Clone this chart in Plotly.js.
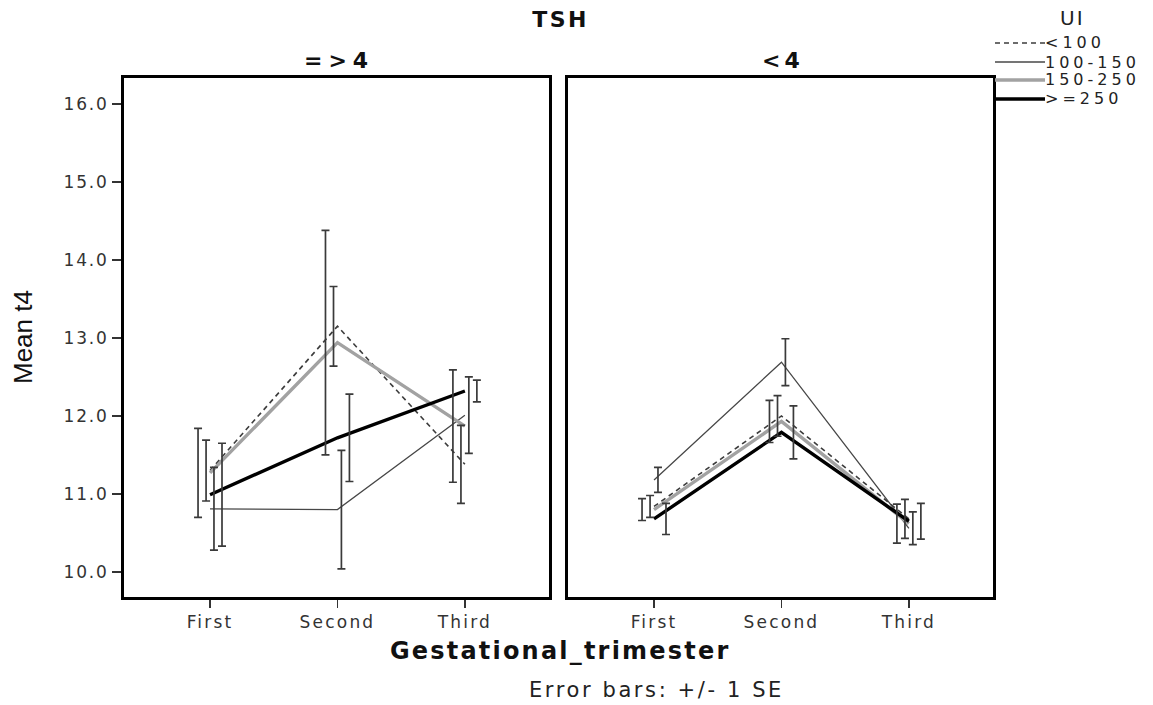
<!DOCTYPE html>
<html>
<head>
<meta charset="utf-8">
<script src="https://cdn.plot.ly/plotly-3.0.1.min.js"></script>
<style>
  html, body { margin: 0; padding: 0; background: #fff; }
  #chart { width: 1153px; height: 705px; }
  #chart .xtick text, #chart .x2tick text { letter-spacing: 2.2px; }
  #chart .ytick text { letter-spacing: 1.8px; }
</style>
</head>
<body>
<div id="chart"></div>
<script>
// ---------- data ----------
const categories = ['First', 'Second', 'Third'];
const groups = ['<100', '100-150', '150-250', '>=250'];
const panelTitles = ['=>4', '<4'];
const yTickValues = [10, 11, 12, 13, 14, 15, 16];

// TSH =>4 panel : mean t4 per trimester
const hiMean_lt100   = [11.30, 13.15, 11.38];
const hiMean_100_150 = [10.81, 10.80, 12.01];
const hiMean_150_250 = [11.27, 12.94, 11.87];
const hiMean_ge250   = [10.99, 11.72, 12.32];
// TSH =>4 panel : standard error
const hiSE_lt100     = [0.39, 0.51, 0.50];
const hiSE_100_150   = [0.53, 0.76, 0.49];
const hiSE_150_250   = [0.57, 1.44, 0.72];
const hiSE_ge250     = [0.66, 0.56, 0.14];

// TSH <4 panel : mean t4 per trimester
const loMean_lt100   = [10.84, 12.00, 10.68];
const loMean_100_150 = [11.18, 12.69, 10.56];
const loMean_150_250 = [10.80, 11.93, 10.62];
const loMean_ge250   = [10.68, 11.79, 10.65];
// TSH <4 panel : standard error
const loSE_lt100     = [0.14, 0.26, 0.25];
const loSE_100_150   = [0.16, 0.30, 0.21];
const loSE_150_250   = [0.14, 0.27, 0.25];
const loSE_ge250     = [0.20, 0.34, 0.23];

// ---------- styles ----------
const W = 1153, H = 705;
const styles = {
  '<100':    { color: '#3c3c3c', width: 1.6, dash: '5px,4px' },
  '100-150': { color: '#474747', width: 1.3, dash: 'solid' },
  '150-250': { color: '#a2a2a2', width: 3.4, dash: 'solid' },
  '>=250':   { color: '#000000', width: 3.4, dash: 'solid' }
};
const dodge = { '150-250': -0.094, '<100': -0.031, '100-150': 0.031, '>=250': 0.094 };
const errColor = '#3a3a3a';
const FONT = 'DejaVu Sans, Verdana, sans-serif';

const panelData = [
  { means: [hiMean_lt100, hiMean_100_150, hiMean_150_250, hiMean_ge250],
    ses:   [hiSE_lt100, hiSE_100_150, hiSE_150_250, hiSE_ge250], xa: 'x', ya: 'y' },
  { means: [loMean_lt100, loMean_100_150, loMean_150_250, loMean_ge250],
    ses:   [loSE_lt100, loSE_100_150, loSE_150_250, loSE_ge250], xa: 'x2', ya: 'y2' }
];

const xIdx = categories.map((c, i) => i);
const traces = [];
panelData.forEach(p => {
  groups.forEach((g, gi) => {
    traces.push({
      type: 'scatter', mode: 'lines', x: xIdx, y: p.means[gi],
      xaxis: p.xa, yaxis: p.ya, showlegend: false, hoverinfo: 'skip',
      line: { color: styles[g].color, width: styles[g].width, dash: styles[g].dash }
    });
  });
  groups.forEach((g, gi) => {
    traces.push({
      type: 'scatter', mode: 'markers', x: xIdx.map(i => i + dodge[g]), y: p.means[gi],
      xaxis: p.xa, yaxis: p.ya, showlegend: false, hoverinfo: 'skip',
      marker: { size: 1, color: 'rgba(0,0,0,0)' },
      error_y: { type: 'data', array: p.ses[gi], visible: true, color: errColor, thickness: 1.7, width: 4 }
    });
  });
});

const px = v => v / W;
const py = v => 1 - v / H;

const yDomain = [py(597), py(78)];
const xRange = [-0.675, 2.66];
const yRange = [9.679, 16.333];

const commonX = {
  range: xRange, tickvals: xIdx, ticktext: categories,
  ticks: 'outside', ticklen: 8, tickwidth: 1.5, tickcolor: '#333',
  showline: true, mirror: true, linewidth: 3, linecolor: '#000',
  showgrid: false, zeroline: false, fixedrange: true,
  tickfont: { family: FONT, size: 17, color: '#333' }
};
const commonY = {
  range: yRange, tickvals: yTickValues, ticktext: yTickValues.map(v => v.toFixed(1)),
  showline: true, mirror: true, linewidth: 3, linecolor: '#000',
  showgrid: false, zeroline: false, fixedrange: true,
  tickfont: { family: FONT, size: 17, color: '#333' }
};

const layout = {
  width: W, height: H,
  margin: { l: 0, r: 0, t: 0, b: 0 },
  paper_bgcolor: '#fff', plot_bgcolor: '#fff',
  showlegend: false,
  xaxis:  Object.assign({}, commonX, { domain: [px(124), px(549)], anchor: 'y' }),
  xaxis2: Object.assign({}, commonX, { domain: [px(568), px(993)], anchor: 'y2' }),
  yaxis:  Object.assign({}, commonY, { domain: yDomain, anchor: 'x', ticks: 'outside', ticklen: 9, tickwidth: 1.5, tickcolor: '#333' }),
  yaxis2: Object.assign({}, commonY, { domain: yDomain, anchor: 'x2', showticklabels: false, ticks: '' }),
  shapes: [],
  annotations: []
};

// titles (letter spacing applied after drawing)
const spacing = [];
const ann = (text, x, y, size, ls, opts) => {
  spacing.push(ls);
  return Object.assign({
    text: text, x: px(x), y: py(y), xref: 'paper', yref: 'paper',
    xanchor: 'center', yanchor: 'middle', showarrow: false,
    font: { family: FONT, size: size, color: '#111' }
  }, opts || {});
};
const esc = s => s.replace(/</g, '&lt;').replace(/>/g, '&gt;');

layout.annotations.push(ann('<b>TSH</b>', 560, 19, 22, 2.5));
layout.annotations.push(ann('UI', 1072, 18, 20, 2, { font: { family: FONT, size: 20, color: '#222' } }));
layout.annotations.push(ann('<b>' + esc(panelTitles[0]) + '</b>', 339, 60, 22, 6));
layout.annotations.push(ann('<b>' + esc(panelTitles[1]) + '</b>', 783, 60, 22, 4));
layout.annotations.push(ann('<b>Gestational_trimester</b>', 560, 651, 24, 2.2));
layout.annotations.push(ann('Error bars: +/- 1 SE', 656, 690, 21, 2.6, { font: { family: FONT, size: 21, color: '#222' } }));
layout.annotations.push(ann('Mean t4', 23, 337, 26, 0, { textangle: -90, font: { family: 'Liberation Sans Narrow, Liberation Sans, Arial, sans-serif', size: 26, color: '#111' } }));

// legend (manual)
const legendY = [43, 62, 80, 99];
groups.forEach((g, gi) => {
  layout.shapes.push({
    type: 'line', xref: 'paper', yref: 'paper',
    x0: px(995), x1: px(1045), y0: py(legendY[gi]), y1: py(legendY[gi]),
    line: { color: styles[g].color, width: styles[g].width, dash: styles[g].dash }
  });
  layout.annotations.push(ann(esc(g), 1044, legendY[gi], 16, 4,
    { xanchor: 'left', align: 'left', borderpad: 0, font: { family: FONT, size: 16, color: '#222' } }));
});

Plotly.newPlot('chart', traces, layout, { staticPlot: true, displayModeBar: false }).then(gd => {
  const nodes = gd.querySelectorAll('.annotation');
  nodes.forEach((node, i) => {
    const t = node.querySelector('.annotation-text');
    if (t && spacing[i]) t.style.letterSpacing = spacing[i] + 'px';
  });
});
</script>
</body>
</html>
